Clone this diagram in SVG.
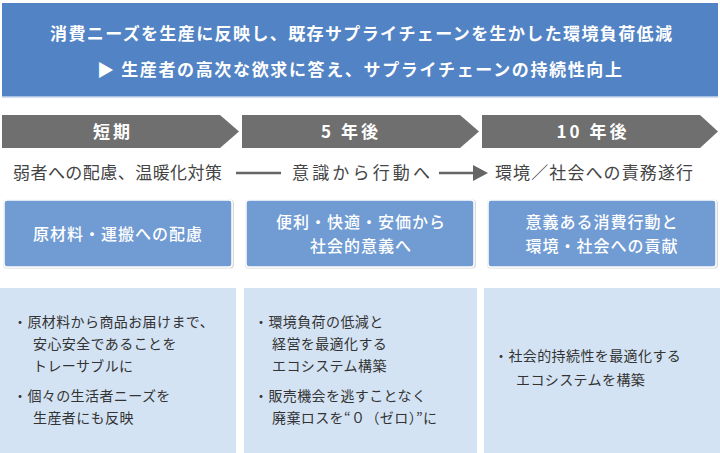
<svg xmlns="http://www.w3.org/2000/svg" width="720" height="453" viewBox="0 0 720 453">
<style>
text{font-family:"Noto Sans CJK JP","Noto Sans",sans-serif;}
.ban{fill:#fff;font-size:17px;font-weight:700;}
.chev{fill:#6f6f6f;}
.chl{fill:#fff;font-size:17px;font-weight:700;text-anchor:middle;letter-spacing:3px;}
.row{fill:#444;font-size:17px;}
.box{fill:#709bd3;stroke:#fff;stroke-width:1.5;}
.sh{fill:#d9d9d9;}
.bt{fill:#fff;font-size:16px;font-weight:500;text-anchor:middle;letter-spacing:1px;}
.pan{fill:#d4e3f3;}
.pt{fill:#333;font-size:14px;letter-spacing:0.4px;}
.conn{stroke:#666;stroke-width:2.5;fill:none;}
</style>
<defs>
<marker id="ah" markerWidth="16" markerHeight="16" refX="0" refY="8" orient="auto" markerUnits="userSpaceOnUse" viewBox="0 0 16 16">
<path d="M0,0 L15,8 L0,16 z" fill="#666"/>
</marker>
</defs>
<g id="banner">
<rect x="2" y="3" width="716" height="94" fill="#5283c4"/>
<rect x="2" y="96" width="716" height="1.5" fill="#a9c2e3"/>
<text class="ban" x="361" y="40" text-anchor="middle" textLength="622" lengthAdjust="spacing">消費ニーズを生産に反映し、既存サプライチェーンを生かした環境負荷低減</text>
<text class="ban" x="359.5" y="76" text-anchor="middle" textLength="525" lengthAdjust="spacing">▶ 生産者の高次な欲求に答え、サプライチェーンの持続性向上</text>
</g>
<g id="phase1">
<polygon class="chev" points="2,115 220,115 239,131.5 220,148 2,148"/>
<text class="chl" x="113" y="137.5">短期</text>
</g>
<g id="phase2">
<polygon class="chev" points="242,115 460,115 479,131.5 460,148 242,148"/>
<text class="chl" x="351" y="137.5">5 年後</text>
</g>
<g id="phase3">
<polygon class="chev" points="482,115 700,115 718,131.5 700,148 482,148"/>
<text class="chl" x="593" y="137.5">10 年後</text>
</g>
<g id="stage1">
<text class="row" x="13" y="179" textLength="209" lengthAdjust="spacing">弱者への配慮、温暖化対策</text>
</g>
<g id="stage2">
<text class="row" x="292" y="179" textLength="138" lengthAdjust="spacing">意識から行動へ</text>
</g>
<g id="stage3">
<text class="row" x="495" y="179" textLength="198" lengthAdjust="spacing">環境／社会への責務遂行</text>
</g>
<g id="connectors">
<line class="conn" x1="236" y1="173" x2="281" y2="173"/>
<line class="conn" x1="439" y1="173" x2="473" y2="173" marker-end="url(#ah)"/>
</g>
<g id="box1">
<rect class="sh" x="3" y="199.5" width="231" height="69" rx="4"/>
<rect class="box" x="4" y="200" width="228" height="67" rx="3"/>
<text class="bt" x="118" y="240">原材料・運搬への配慮</text>
</g>
<g id="box2">
<rect class="sh" x="245" y="199.5" width="231" height="69" rx="4"/>
<rect class="box" x="246" y="200" width="228" height="67" rx="3"/>
<text class="bt" x="361" y="228">便利・快適・安価から</text>
<text class="bt" x="361" y="252">社会的意義へ</text>
</g>
<g id="box3">
<rect class="sh" x="487" y="199.5" width="231" height="69" rx="4"/>
<rect class="box" x="488" y="200" width="228" height="67" rx="3"/>
<text class="bt" x="602" y="228">意義ある消費行動と</text>
<text class="bt" x="602" y="252">環境・社会への貢献</text>
</g>
<g id="panel1">
<rect class="pan" x="0" y="288" width="236" height="165"/>
<text class="pt" x="13" y="327">・原材料から商品お届けまで、</text>
<text class="pt" x="33" y="349">安心安全であることを</text>
<text class="pt" x="33" y="371">トレーサブルに</text>
<text class="pt" x="13" y="401">・個々の生活者ニーズを</text>
<text class="pt" x="33" y="423">生産者にも反映</text>
</g>
<g id="panel2">
<rect class="pan" x="244" y="288" width="233" height="165"/>
<text class="pt" x="254" y="327">・環境負荷の低減と</text>
<text class="pt" x="272" y="349">経営を最適化する</text>
<text class="pt" x="272" y="371">エコシステム構築</text>
<text class="pt" x="254" y="401">・販売機会を逃すことなく</text>
<text class="pt" x="272" y="423">廃棄ロスを“０（ゼロ）”に</text>
</g>
<g id="panel3">
<rect class="pan" x="484" y="288" width="236" height="165"/>
<text class="pt" x="494" y="361">・社会的持続性を最適化する</text>
<text class="pt" x="516" y="385">エコシステムを構築</text>
</g>
</svg>
